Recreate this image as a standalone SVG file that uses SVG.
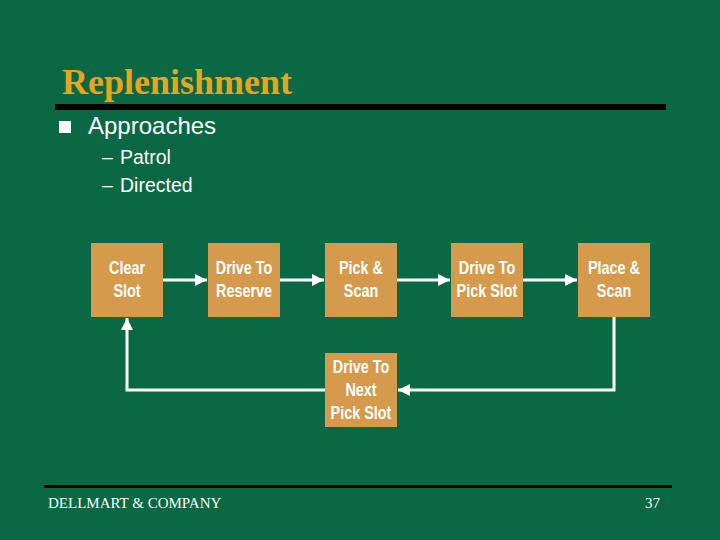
<svg xmlns="http://www.w3.org/2000/svg" width="720" height="540" viewBox="0 0 720 540">
<style>
.box{fill:#d59a4b}
.bt{fill:#fff;font-family:"Liberation Sans",Arial,sans-serif;font-weight:bold;font-size:18px;text-anchor:middle}
.c{stroke:#fff;fill:none;stroke-width:3}
.body{fill:#fff;font-family:"Liberation Sans",Arial,sans-serif}
</style>
<defs>
<marker id="ah" viewBox="0 0 10 10" refX="10" refY="5" markerWidth="4" markerHeight="4" orient="auto" markerUnits="strokeWidth"><path d="M0,0 L10,5 L0,10 Z" fill="#fff"/></marker>
</defs>
<rect width="720" height="540" fill="#0a6844"/>
<text x="62" y="94" font-family="Liberation Serif,serif" font-weight="bold" font-size="36" fill="#e8a420">Replenishment</text>
<rect x="55" y="104" width="611" height="6" fill="#000"/>
<rect x="59" y="121" width="12" height="12" fill="#fff"/>
<text class="body" x="88" y="134" font-size="24">Approaches</text>
<text class="body" x="102" y="164" font-size="19.5">–</text>
<text class="body" x="120" y="164" font-size="19.5">Patrol</text>
<text class="body" x="102" y="192" font-size="19.5">–</text>
<text class="body" x="120" y="192" font-size="19.5">Directed</text>
<g id="connectors">
<path class="c" d="M163,280 H207" stroke-width="4" marker-end="url(#ah)"/>
<path class="c" d="M280,280 H324" marker-end="url(#ah)"/>
<path class="c" d="M397,280 H450" marker-end="url(#ah)"/>
<path class="c" d="M523,280 H577" marker-end="url(#ah)"/>
<path class="c" d="M614,317 V390 H398" marker-end="url(#ah)"/>
<path class="c" d="M325,390 H127 V318" marker-end="url(#ah)"/>
</g>
<g id="n1"><rect class="box" x="91" y="243" width="72" height="74"/><text class="bt" transform="translate(127,274) scale(0.8,1)">Clear</text><text class="bt" transform="translate(127,297) scale(0.8,1)">Slot</text></g>
<g id="n2"><rect class="box" x="208" y="243" width="72" height="74"/><text class="bt" transform="translate(244,274) scale(0.8,1)">Drive To</text><text class="bt" transform="translate(244,297) scale(0.8,1)">Reserve</text></g>
<g id="n3"><rect class="box" x="325" y="243" width="72" height="74"/><text class="bt" transform="translate(361,274) scale(0.8,1)">Pick &amp;</text><text class="bt" transform="translate(361,297) scale(0.8,1)">Scan</text></g>
<g id="n4"><rect class="box" x="451" y="243" width="72" height="74"/><text class="bt" transform="translate(487,274) scale(0.8,1)">Drive To</text><text class="bt" transform="translate(487,297) scale(0.8,1)">Pick Slot</text></g>
<g id="n5"><rect class="box" x="578" y="243" width="72" height="74"/><text class="bt" transform="translate(614,274) scale(0.8,1)">Place &amp;</text><text class="bt" transform="translate(614,297) scale(0.8,1)">Scan</text></g>
<g id="n6"><rect class="box" x="325" y="353" width="72" height="74"/><text class="bt" transform="translate(361,373) scale(0.8,1)">Drive To</text><text class="bt" transform="translate(361,396) scale(0.8,1)">Next</text><text class="bt" transform="translate(361,419) scale(0.8,1)">Pick Slot</text></g>
<rect x="44" y="485" width="628" height="3" fill="#000"/>
<text x="48" y="508" font-family="Liberation Serif,serif" font-size="15" fill="#fff">DELLMART &amp; COMPANY</text>
<text x="645" y="508" font-family="Liberation Serif,serif" font-size="15" fill="#fff">37</text>
</svg>
